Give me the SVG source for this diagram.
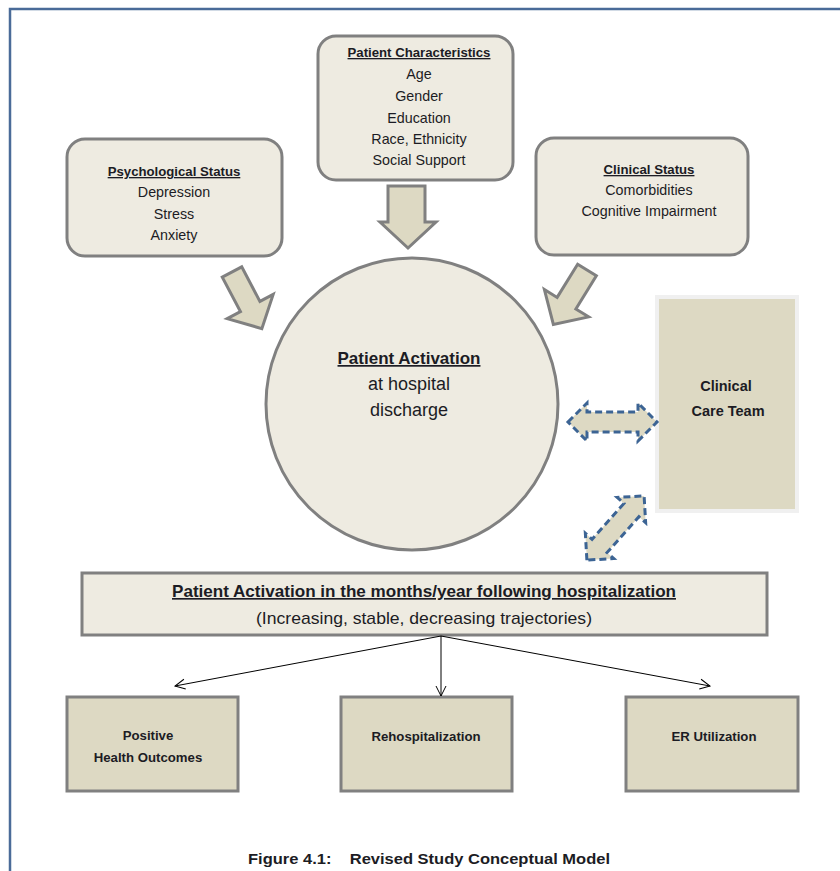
<svg xmlns="http://www.w3.org/2000/svg" width="840" height="871" viewBox="0 0 840 871">
<style>
.t{font-family:"Liberation Sans",Arial,sans-serif;fill:#1c1c24;text-anchor:middle}
.b{font-weight:bold}
.u{text-decoration:underline}
.r{font-size:14.3px}
.h{font-size:13.2px}
.light{fill:#eeebe1;stroke:#808080;stroke-width:3}
.dark{fill:#ddd9c3;stroke:#808080;stroke-width:3}
.block{fill:#ddd9c3;stroke:#808080;stroke-width:3;stroke-linejoin:miter}
.dash{fill:#ddd9c3;stroke:#3c6494;stroke-width:3;stroke-dasharray:7 4}
.thin{stroke:#000;stroke-width:1;fill:none}
</style>
<defs>
<marker id="open" viewBox="0 0 12 12" refX="11" refY="6" markerWidth="12" markerHeight="12" markerUnits="userSpaceOnUse" orient="auto">
<path d="M1,1 L11,6 L1,11" fill="none" stroke="#000" stroke-width="1"/>
</marker>
</defs>
<rect width="840" height="871" fill="#fff"/>
<path d="M10,871 V9 H840" fill="none" stroke="#4a6b98" stroke-width="2.5"/>

<g id="psychological-status">
<rect class="light" x="67" y="139" width="215" height="117" rx="18"/>
<text class="t b u h" x="174" y="176">Psychological Status</text>
<text class="t r" x="174" y="197">Depression</text>
<text class="t r" x="174" y="219">Stress</text>
<text class="t r" x="174" y="240">Anxiety</text>
</g>

<g id="patient-characteristics">
<rect class="light" x="318" y="36" width="195" height="144" rx="18"/>
<text class="t b u h" x="419" y="57">Patient Characteristics</text>
<text class="t r" x="419" y="79">Age</text>
<text class="t r" x="419" y="101">Gender</text>
<text class="t r" x="419" y="123">Education</text>
<text class="t r" x="419" y="144">Race, Ethnicity</text>
<text class="t r" x="419" y="165">Social Support</text>
</g>

<g id="clinical-status">
<rect class="light" x="536" y="138" width="212" height="117" rx="18"/>
<text class="t b u h" x="649" y="174">Clinical Status</text>
<text class="t r" x="649" y="195">Comorbidities</text>
<text class="t r" x="649" y="216">Cognitive Impairment</text>
</g>

<g id="patient-activation">
<circle class="light" cx="412" cy="404" r="146"/>
<text class="t b u" x="409" y="364" font-size="17">Patient Activation</text>
<text class="t" x="409" y="390" font-size="18">at hospital</text>
<text class="t" x="409" y="416" font-size="18">discharge</text>
</g>

<g id="clinical-care-team">
<rect x="657" y="297" width="140" height="214" fill="#ddd9c3" stroke="#f0f0f0" stroke-width="4"/>
<text class="t b" x="726" y="391" font-size="14.5">Clinical</text>
<text class="t b" x="728" y="416" font-size="14.5">Care Team</text>
</g>

<g id="activation-followup">
<rect class="light" x="82" y="573" width="685" height="62"/>
<text class="t b u" x="424" y="597" font-size="16.5" textLength="504" lengthAdjust="spacingAndGlyphs">Patient Activation in the months/year following hospitalization</text>
<text class="t" x="424" y="624" font-size="17" textLength="336" lengthAdjust="spacingAndGlyphs">(Increasing, stable, decreasing trajectories)</text>
</g>

<g id="positive-health-outcomes">
<rect class="dark" x="67" y="697" width="171" height="94"/>
<text class="t b h" x="148" y="740">Positive</text>
<text class="t b h" x="148" y="762">Health Outcomes</text>
</g>

<g id="rehospitalization">
<rect class="dark" x="341" y="697" width="171" height="94"/>
<text class="t b h" x="426" y="741">Rehospitalization</text>
</g>

<g id="er-utilization">
<rect class="dark" x="626" y="697" width="172" height="94"/>
<text class="t b h" x="714" y="741">ER Utilization</text>
</g>

<g id="connectors">
<polygon class="block" points="388,186 425,186 425,222 436,222 408,248 380,222 388,222"/>
<polygon class="block" transform="translate(232,272) rotate(-27.8)" points="-11,0 11,0 11,39 26,39 0,64 -26,39 -11,39"/>
<polygon class="block" transform="translate(587,270) rotate(31.7)" points="-11,0 11,0 11,39 26,39 0,64 -26,39 -11,39"/>
<polygon class="dash" points="568,422 587,403 587,412 638,412 638,403 657,422 638,441 638,432 587,432 587,441"/>
<polygon class="dash" transform="translate(615.5,528) rotate(-48.3)" points="-43,0 -24,-19 -24,-10 24,-10 24,-19 43,0 24,19 24,10 -24,10 -24,19"/>
<line class="thin" x1="441" y1="636" x2="175" y2="686" marker-end="url(#open)"/>
<line class="thin" x1="441" y1="636" x2="441" y2="696" marker-end="url(#open)"/>
<line class="thin" x1="441" y1="636" x2="710" y2="686" marker-end="url(#open)"/>
</g>

<text class="t b" x="429" y="864" font-size="15.5" xml:space="preserve" textLength="362" lengthAdjust="spacingAndGlyphs">Figure 4.1:    Revised Study Conceptual Model</text>
</svg>
